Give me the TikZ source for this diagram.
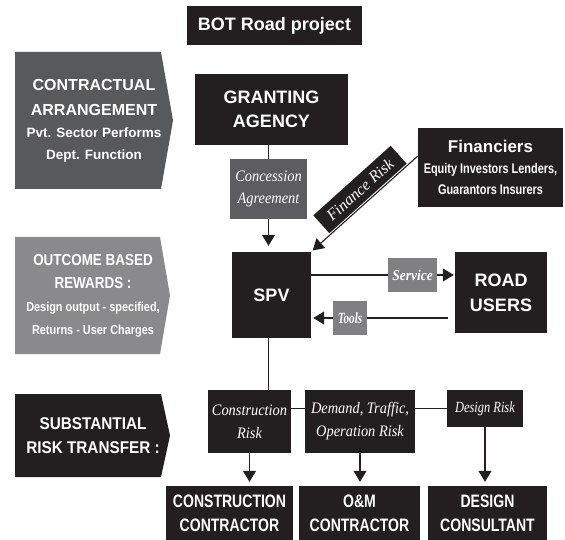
\documentclass[tikz,border=0pt]{standalone}
\usepackage{fontspec}
\setmainfont{Liberation Sans}
\newfontfamily\hvnarrow[FakeStretch=0.78]{Liberation Sans}
\newfontfamily\hvsemi[FakeStretch=0.84]{Liberation Sans}
\newfontfamily\hvmid[FakeStretch=0.9]{Liberation Sans}
\newfontfamily\tmit[FakeStretch=0.9]{Liberation Serif}
\newfontfamily\tmnar[FakeStretch=0.8]{Liberation Serif}
\newfontfamily\tmtight[FakeStretch=0.72]{Liberation Serif}
\newfontfamily\tmsvc[FakeStretch=0.9]{Liberation Serif}
\newfontfamily\tmwide{Liberation Serif}
\usetikzlibrary{arrows.meta}
\newcommand\fsz[2]{\fontsize{#1}{#2}\selectfont}
\definecolor{ink}{HTML}{231F20}
\definecolor{grayA}{HTML}{58595B}
\definecolor{grayB}{HTML}{8A8A8C}
\definecolor{grayC}{HTML}{5D5D5F}
\definecolor{grayD}{HTML}{808082}
\begin{document}
\begin{tikzpicture}[x=1pt,y=-1pt,
  blk/.style={fill=ink, text=white, inner sep=0pt, align=center},
  tag/.style={text=white, inner sep=0pt, align=center},
  ln/.style={draw=ink, line width=1.1pt},
  arr/.style={ln, -{Triangle[length=11pt,width=13pt]}}]
\useasboundingbox (0,0) rectangle (565,540);

% heading
\node[blk, minimum width=175pt, minimum height=39pt, font=\bfseries\fsz{18}{22}] (title) at (274.5,25.5) {BOT Road project};

% left-hand arrow panels
\fill[grayA] (15,52) -- (161,52) -- (173,120.5) -- (161,189) -- (15,189) -- cycle;
\node[tag, font=\bfseries\fsz{13.5}{22}] (arrA) at (94,121)
  {{\fsz{16}{22}CONTRACTUAL}\\[3pt]{\fsz{16}{22}ARRANGEMENT}\\Pvt. Sector Performs\\Dept. Function};

\fill[grayB] (15,237) -- (160,237) -- (170,295.5) -- (160,354) -- (15,354) -- cycle;
\node[tag, font=\bfseries\hvsemi\fsz{13}{23}] (arrB) at (93,296)
  {{\fsz{16}{23}OUTCOME BASED}\\{\fsz{16}{23}REWARDS :}\\Design output - specified,\\Returns - User Charges};

\fill[ink] (15,394) -- (161,394) -- (170,435.5) -- (161,477) -- (15,477) -- cycle;
\node[tag, font=\bfseries\hvmid\fsz{17}{24}] (arrC) at (93,436) {SUBSTANTIAL\\RISK TRANSFER :};

% main parties
\node[blk, minimum width=153pt, minimum height=71pt, font=\bfseries\fsz{18}{24}] (gr) at (271.5,109.5) {GRANTING\\AGENCY};
\node[blk, minimum width=145pt, minimum height=79pt, font=\bfseries\hvnarrow\fsz{14}{21}] (fin) at (490.5,167.5)
  {{\normalfont\bfseries\fsz{17}{21}Financiers}\\Equity Investors Lenders,\\Guarantors Insurers};
\node[fill=grayC, tag, minimum width=77pt, minimum height=60pt, font=\tmit\itshape\fsz{16}{22}] (cc) at (268.5,189) {Concession\\Agreement};
\node[blk, minimum width=79pt, minimum height=86pt, font=\bfseries\fsz{18}{22}] (spv) at (271.5,295) {SPV};
\node[blk, minimum width=92pt, minimum height=81pt, font=\bfseries\fsz{18}{25}] (ru) at (501,292.5) {ROAD\\USERS};
\node[fill=grayD, tag, minimum width=49pt, minimum height=34pt, font=\tmsvc\bfseries\itshape\fsz{15}{16}] (sv) at (412.5,275) {Service};
\node[fill=grayD, tag, minimum width=34pt, minimum height=34pt, font=\tmtight\bfseries\itshape\fsz{15.5}{16}] (tl) at (350,318) {Tools};

% risks
\node[blk, minimum width=83pt, minimum height=63pt, font=\tmit\itshape\fsz{16}{23}] (cr) at (249.5,421.5) {Construction\\Risk};
\node[blk, minimum width=110pt, minimum height=63pt, font=\tmit\itshape\fsz{16}{23}] (dm) at (360,421.5) {Demand, Traffic,\\Operation Risk};
\node[blk, minimum width=76pt, minimum height=37pt, font=\tmnar\itshape\fsz{15.5}{18}] (drk) at (485,408.5) {Design Risk};

% contractors
\node[blk, minimum width=127pt, minimum height=54pt, font=\bfseries\hvnarrow\fsz{18}{24}] (bc) at (229.5,513) {CONSTRUCTION\\CONTRACTOR};
\node[blk, minimum width=121pt, minimum height=54pt, font=\bfseries\hvnarrow\fsz{18}{24}] (om) at (359.5,513) {O\&M\\CONTRACTOR};
\node[blk, minimum width=119pt, minimum height=54pt, font=\bfseries\hvnarrow\fsz{18}{24}] (dc) at (487.5,513) {DESIGN\\CONSULTANT};

% connectors
\draw[ln] (cc.north |- gr.south) -- (cc.north);
\draw[arr, shorten >=6pt] (cc.south) -- (cc.south |- spv.north);
\draw[arr, shorten >=2pt] ([yshift=11.5pt]fin.west) -- (spv.north east);
\node[blk, rotate=42, minimum width=104pt, minimum height=24pt, font=\tmwide\itshape\fsz{16}{18}] (fr) at (360,189.5) {Finance Risk};

\draw[ln] (spv.east |- sv) -- (sv.west);
\draw[arr, shorten >=1pt] (sv.east) -- (ru.west |- sv);
\draw[ln] ([xshift=-7pt]ru.west |- tl) -- (tl.east);
\draw[arr, shorten >=2pt] (tl.west) -- (spv.east |- tl);

\draw[ln] (cc.south |- spv.south) -- (cc.south |- cr.north);
\draw[ln] (cr.east |- drk) -- (dm.west |- drk);
\draw[ln] (dm.east |- drk) -- (drk.west);

\draw[arr, shorten >=4pt] (cr.south) -- (cr.south |- bc.north);
\draw[arr, shorten >=4pt] (dm.south) -- (dm.south |- om.north);
\draw[arr, shorten >=4pt] (drk.south) -- (drk.south |- dc.north);
\end{tikzpicture}
\end{document}
